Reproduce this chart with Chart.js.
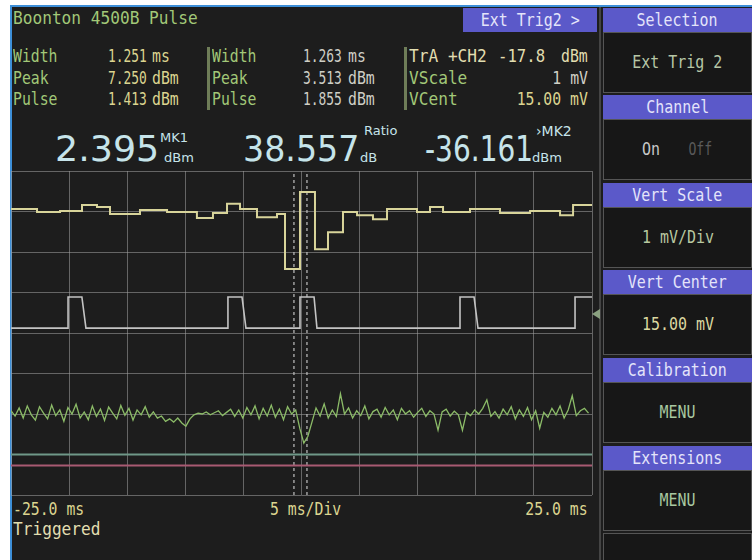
<!DOCTYPE html>
<html>
<head>
<meta charset="utf-8">
<script src="https://cdn.jsdelivr.net/npm/chart.js@4.4.1/dist/chart.umd.min.js"></script>
<style>
  html, body { margin: 0; padding: 0; background: #fff; }
  #scr { position: absolute; left: 0; top: 0; width: 752px; height: 560px; overflow: hidden; background: #fff;
         font-family: "DejaVu Sans Mono", monospace; }
  #bg  { position: absolute; left: 12px; top: 7px; right: 0; bottom: 0; background: #1d1d1d; }
  #bl  { position: absolute; left: 10px; top: 5px; width: 2px; bottom: 0; background: #3d8fd8; }
  #bt  { position: absolute; left: 10px; top: 5px; right: 0; height: 2px; background: #3d8fd8; }
  .t  { position: absolute; white-space: pre; line-height: 1; font-size: 17px; transform: scaleX(0.87); transform-origin: 0 0; }
  .n  { transform: scaleX(0.76); }
  .r  { transform-origin: 100% 0; }
  .g  { color: #a2c878; }
  .y  { color: #dcd590; }
  .w  { color: #cfcfc6; }
  .c  { color: #e2deb0; }
  .sep { position: absolute; width: 3px; top: 47px; height: 63px; background: #6f7d58; }
  .big { position: absolute; white-space: pre; line-height: 1; font-family: "DejaVu Sans", sans-serif; font-size: 35px; color: #c6e4ea;
         transform-origin: 0 0; }
  .sub { position: absolute; white-space: pre; line-height: 1; font-family: "DejaVu Sans", sans-serif; font-size: 13px; color: #c6e4ea; }
  .hd  { position: absolute; left: 603px; width: 149px; height: 24px; background: #5b59c9; color: #e4e4fa;
         font-size: 17px; line-height: 24px; text-align: center; }
  .hd span, .bx span { display: inline-block; transform: scaleX(0.88); }
  .bx  { position: absolute; left: 603px; width: 147px; height: 59px; border: 1px solid #555; background: #171717;
         font-size: 17px; line-height: 59px; text-align: center; }
  #plot { position: absolute; left: 6px; top: 166px; width: 592px; height: 335px; }
</style>
</head>
<body>
<div id="scr">
  <div id="bg"></div><div id="bl"></div><div id="bt"></div>

  <div class="t g" style="left:13px;top:10px;transform:scaleX(0.95)">Boonton 4500B Pulse</div>

  <div class="t g" style="left:13px;top:48px">Width</div>
  <div class="t g" style="left:13px;top:70px">Peak</div>
  <div class="t g" style="left:13px;top:91px">Pulse</div>
  <div class="t y n" style="left:108px;top:48px">1.251</div><div class="t y" style="left:152px;top:48px">ms</div>
  <div class="t y n" style="left:108px;top:70px">7.250</div><div class="t y" style="left:152px;top:70px">dBm</div>
  <div class="t y n" style="left:108px;top:91px">1.413</div><div class="t y" style="left:152px;top:91px">dBm</div>

  <div class="sep" style="left:207px"></div>
  <div class="t g" style="left:212px;top:48px">Width</div>
  <div class="t g" style="left:212px;top:70px">Peak</div>
  <div class="t g" style="left:212px;top:91px">Pulse</div>
  <div class="t w n" style="left:303px;top:48px">1.263</div><div class="t w" style="left:348px;top:48px">ms</div>
  <div class="t w n" style="left:303px;top:70px">3.513</div><div class="t w" style="left:348px;top:70px">dBm</div>
  <div class="t w n" style="left:303px;top:91px">1.855</div><div class="t w" style="left:348px;top:91px">dBm</div>

  <div class="sep" style="left:404px"></div>
  <div class="t c" style="left:409px;top:48px;transform:scaleX(0.95)">TrA +CH2</div>
  <div class="t c" style="left:498px;top:48px;transform:scaleX(0.92)">-17.8</div>
  <div class="t c r" style="right:164px;top:48px">dBm</div>
  <div class="t g" style="left:409px;top:70px;transform:scaleX(0.95)">VScale</div>
  <div class="t g" style="left:409px;top:91px;transform:scaleX(0.95)">VCent</div>
  <div class="t w r" style="right:164px;top:70px">1 mV</div>
  <div class="t y r" style="right:164px;top:91px">15.00 mV</div>

  <div class="big" style="left:55px;top:132px;transform:scaleX(1.04)">2.395</div>
  <div class="sub" style="left:160px;top:131px">MK1</div>
  <div class="sub" style="left:164px;top:151px">dBm</div>
  <div class="big" style="left:243px;top:132px;transform:scaleX(0.95)">38.557</div>
  <div class="sub" style="left:364px;top:124px">Ratio</div>
  <div class="sub" style="left:360px;top:151px">dB</div>
  <div class="big" style="left:425px;top:132px;transform:scaleX(0.8)">-36.161</div>
  <div class="sub" style="left:536px;top:124px;font-size:14px">›MK2</div>
  <div class="sub" style="left:532px;top:151px">dBm</div>

  <div class="hd" style="left:463px;width:134px;top:8px"><span>Ext Trig2 &gt;</span></div>

  <div style="position:absolute;left:599px;top:7px;width:2px;bottom:0;background:#444"></div>
  <div class="hd" style="top:8px"><span>Selection</span></div>
  <div class="bx" style="top:32px;color:#b6c6a6"><span>Ext Trig 2</span></div>
  <div class="hd" style="top:95px"><span>Channel</span></div>
  <div class="bx" style="top:119px;color:#c8c8c8"><span>On&nbsp;&nbsp;&nbsp;<span style="color:#5a5a5a">Off</span></span></div>
  <div class="hd" style="top:183px"><span>Vert Scale</span></div>
  <div class="bx" style="top:207px;color:#b8c8a0"><span>1 mV/Div</span></div>
  <div class="hd" style="top:270px"><span>Vert Center</span></div>
  <div class="bx" style="top:294px;color:#dcd8a0"><span>15.00 mV</span></div>
  <div class="hd" style="top:358px"><span>Calibration</span></div>
  <div class="bx" style="top:382px;color:#a8c8a0"><span>MENU</span></div>
  <div class="hd" style="top:446px"><span>Extensions</span></div>
  <div class="bx" style="top:470px;color:#a8c8a0"><span>MENU</span></div>
  <div class="bx" style="top:533px;height:40px"></div>

  <div style="position:absolute;left:592px;top:309px;width:0;height:0;border-top:5px solid transparent;border-bottom:5px solid transparent;border-right:8px solid #8aa080"></div>

  <div class="t y" style="left:13px;top:501px">-25.0 ms</div>
  <div class="t y" style="left:270px;top:501px">5 ms/Div</div>
  <div class="t y r" style="right:164px;top:501px">25.0 ms</div>
  <div class="t c" style="left:13px;top:521px;transform:scaleX(0.95)">Triggered</div>

  <div id="plot"><canvas id="scope"></canvas></div>
</div>

<script>
// time axis in ms, vertical axis in divisions (centre = 0)
const xMin = -25, xMax = 25, xDiv = 5;
const yMin = -4, yMax = 4;

// TrA (yellow, stepped)
const trA_t = [-25, -22.76, -20.78, -18.89, -17.60, -16.48, -13.90, -11.57, -9.00, -7.62, -6.41, -5.29, -3.83, -2.11, -1.42,
               -0.13, 1.16, 2.28, 3.57, 4.78, 6.15, 7.36, 9.94, 11.06, 12.18, 14.50, 17.08, 19.67, 22.25, 23.37, 25];
const trA_v = [3.06, 2.99, 3.01, 3.16, 3.11, 2.94, 3.04, 2.99, 2.84, 2.96, 3.19, 3.06, 2.86, 2.94, 1.58,
               3.48, 2.07, 2.49, 2.99, 2.91, 2.81, 3.06, 2.99, 3.11, 2.99, 3.06, 2.96, 3.01, 2.91, 3.16, 3.16];

// Ext trig pulses (grey)
const trig_t = [-25, -20.09, -20.09, -18.90, -18.55, -6.33, -6.33, -5.12, -4.78, -0.13, -0.13, 1.08, 1.33,
                13.64, 13.64, 14.85, 15.19, 23.54, 23.54, 25];
const trig_v = [0.12, 0.12, 0.89, 0.89, 0.12, 0.12, 0.89, 0.89, 0.12, 0.12, 0.89, 0.89, 0.12,
                0.12, 0.89, 0.89, 0.12, 0.12, 0.89, 0.89];

// CH2 noise (green), one sample every 0.35 ms from -25 ms
const ch2_t0 = -25, ch2_dt = 0.35;
const ch2_v = [
  -1.92, -2.05, -1.85, -2.10, -1.80, -2.02, -2.15, -1.82, -1.98, -2.12,
  -1.78, -2.04, -1.90, -2.18, -1.84, -2.00, -1.76, -2.10, -1.95, -2.14,
  -1.80, -2.06, -1.88, -2.16, -1.83, -1.98, -2.12, -1.79, -2.03, -1.86,
  -2.15, -1.90, -2.02, -1.82, -2.08, -1.95, -2.10, -2.05, -2.18, -2.12,
  -2.20, -2.10, -2.22, -2.30, -2.12, -2.02, -1.98, -2.00, -1.95, -2.02,
  -1.97, -1.92, -2.04, -1.96, -1.88, -2.06, -1.90, -2.10, -1.84, -2.02,
  -1.80, -2.12, -1.86, -2.05, -1.78, -2.08, -1.88, -2.14, -1.82, -2.00,
  -1.90, -2.35, -2.72, -2.55, -2.20, -1.85, -2.05, -1.75, -2.10, -1.90,
  -2.06, -1.50, -2.00, -1.85, -2.10, -1.92, -2.04, -1.80, -2.12, -1.94,
  -1.88, -2.08, -1.84, -2.02, -1.90, -2.14, -1.86, -2.00, -1.92, -2.08,
  -1.96, -1.86, -2.06, -1.92, -2.00, -2.40, -1.95, -1.88, -2.05, -1.93,
  -2.02, -2.40, -1.96, -2.04, -1.90, -2.00, -1.86, -1.65, -2.06, -1.94,
  -2.10, -1.88, -2.02, -1.82, -2.12, -1.90, -2.06, -1.84, -2.14, -1.92,
  -2.35, -1.96, -2.08, -1.86, -2.02, -1.80, -2.10, -1.90, -1.55, -2.04,
  -1.92, -1.86, -1.98
];

// flat reference traces
const refTeal = -3.0;
const refPink = -3.27;

// markers MK1 / MK2 (ms)
const markers = [-0.65, 0.47];

const pts = (ts, vs) => ts.map((t, i) => ({ x: t, y: vs[i] }));

const datasets = [
  { data: [{ x: xMin, y: refTeal }, { x: xMax, y: refTeal }], borderColor: '#6f9888', borderWidth: 2 },
  { data: [{ x: xMin, y: refPink }, { x: xMax, y: refPink }], borderColor: '#a85a72', borderWidth: 2 },
  { data: pts(trig_t, trig_v), borderColor: '#c4c4c4', borderWidth: 1.6 },
  { data: ch2_v.map((v, i) => ({ x: ch2_t0 + i * ch2_dt, y: v })), borderColor: '#8cbc68', borderWidth: 1.3 },
  { data: pts(trA_t, trA_v), borderColor: '#d8d49a', borderWidth: 2, stepped: 'before' }
];
markers.forEach(m => datasets.push({
  data: [{ x: m, y: yMin }, { x: m, y: yMax }], borderColor: '#c0c0c0', borderWidth: 1.2, borderDash: [3, 3]
}));

new Chart(document.getElementById('scope'), {
  type: 'line',
  data: { datasets },
  options: {
    responsive: true,
    maintainAspectRatio: false,
    animation: false,
    layout: { padding: { left: 5, right: 6, top: 5, bottom: 6 } },
    elements: { point: { radius: 0 }, line: { tension: 0 } },
    plugins: { legend: { display: false }, tooltip: { enabled: false } },
    scales: {
      x: {
        type: 'linear', min: xMin, max: xMax,
        ticks: { display: false, stepSize: xDiv },
        grid: { color: 'rgba(160,160,160,0.55)', lineWidth: 1, drawTicks: false },
        border: { display: false }
      },
      y: {
        type: 'linear', min: yMin, max: yMax,
        ticks: { display: false, stepSize: 1 },
        grid: { color: 'rgba(160,160,160,0.55)', lineWidth: 1, drawTicks: false },
        border: { display: false }
      }
    }
  }
});
</script>
</body>
</html>
